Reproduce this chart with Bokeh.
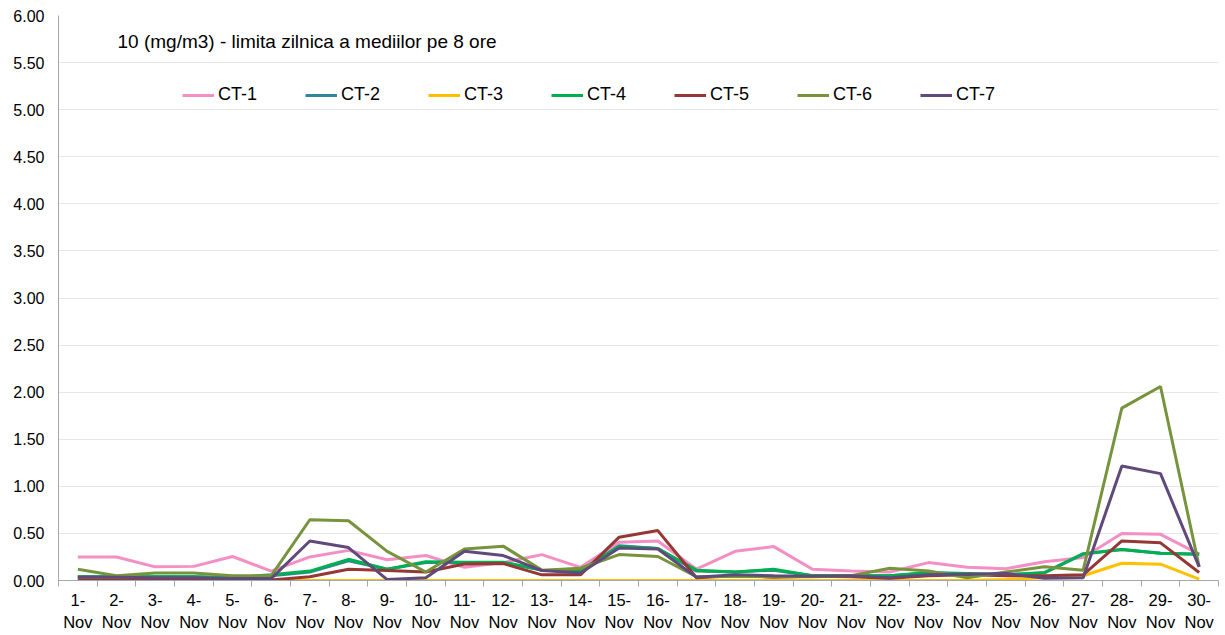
from bokeh.plotting import figure
from bokeh.models import (FixedTicker, NumeralTickFormatter, Legend, LegendItem,
                          Label, Range1d, ColumnDataSource)
from bokeh.embed import file_html
from bokeh.resources import INLINE

days = [f"{d}-\nNov" for d in range(1, 31)]

ct1 = [0.25, 0.25, 0.145, 0.15, 0.255, 0.10, 0.25, 0.32, 0.22, 0.265,
       0.14, 0.19, 0.275, 0.14, 0.405, 0.42, 0.12, 0.31, 0.36, 0.12,
       0.10, 0.09, 0.19, 0.14, 0.125, 0.20, 0.245, 0.50, 0.49, 0.28]
ct2 = [0.04, 0.04, 0.04, 0.04, 0.03, 0.05, 0.09, 0.21, 0.12, 0.19,
       0.19, 0.19, 0.11, 0.10, 0.37, 0.34, 0.10, 0.09, 0.11, 0.05,
       0.05, 0.05, 0.08, 0.07, 0.06, 0.08, 0.28, 0.33, 0.29, 0.28]
ct3 = [0.0, 0.0, 0.0, 0.0, 0.0, 0.0, 0.0, 0.0, 0.0, 0.0,
       0.0, 0.0, 0.0, 0.0, 0.0, 0.0, 0.0, 0.0, 0.0, 0.0,
       0.0, 0.0, 0.0, 0.0, 0.01, 0.03, 0.05, 0.183, 0.173, 0.014]
ct4 = [0.04, 0.04, 0.04, 0.04, 0.03, 0.06, 0.10, 0.225, 0.12, 0.20,
       0.195, 0.195, 0.11, 0.105, 0.36, 0.34, 0.11, 0.09, 0.12, 0.05,
       0.05, 0.05, 0.085, 0.075, 0.06, 0.085, 0.285, 0.33, 0.29, 0.28]
ct5 = [0.005, 0.005, 0.005, 0.005, 0.005, 0.005, 0.04, 0.12, 0.105, 0.09,
       0.175, 0.18, 0.06, 0.06, 0.46, 0.53, 0.03, 0.05, 0.035, 0.045,
       0.04, 0.025, 0.05, 0.06, 0.05, 0.05, 0.06, 0.42, 0.40, 0.085]
ct6 = [0.12, 0.05, 0.08, 0.08, 0.05, 0.05, 0.645, 0.635, 0.31, 0.09,
       0.335, 0.365, 0.11, 0.13, 0.275, 0.255, 0.04, 0.045, 0.04, 0.04,
       0.05, 0.13, 0.10, 0.03, 0.09, 0.145, 0.11, 1.83, 2.06, 0.145]
ct7 = [0.035, 0.035, 0.03, 0.03, 0.02, 0.02, 0.42, 0.35, 0.01, 0.03,
       0.31, 0.265, 0.105, 0.08, 0.345, 0.335, 0.035, 0.06, 0.05, 0.045,
       0.05, 0.03, 0.06, 0.067, 0.074, 0.025, 0.03, 1.215, 1.135, 0.145]

series_names = ["CT-1", "CT-2", "CT-3", "CT-4", "CT-5", "CT-6", "CT-7"]
series_values = [ct1, ct2, ct3, ct4, ct5, ct6, ct7]
colors = ["#F48FC4", "#31859C", "#FFC000", "#00B050", "#953735", "#77933C", "#604A7B"]

y_ticks = [0.0, 0.5, 1.0, 1.5, 2.0, 2.5, 3.0, 3.5, 4.0, 4.5, 5.0, 5.5, 6.0]
note = "10 (mg/m3) - limita zilnica  a mediilor pe 8 ore"

xs = list(range(1, len(days) + 1))

p = figure(width=1222, height=634, output_backend="svg", toolbar_location=None,
           x_range=Range1d(0.5, len(days) + 0.5), y_range=Range1d(0, 6),
           min_border_left=58, min_border_top=15, min_border_right=4,
           min_border_bottom=47)
p.outline_line_color = None
p.background_fill_color = "white"

FONT = "Liberation Sans"

items = []
for name, vals, col in zip(series_names, series_values, colors):
    src = ColumnDataSource(dict(x=xs, y=vals))
    r = p.line("x", "y", source=src, line_color=col, line_width=3)
    items.append(LegendItem(label=name, renderers=[r]))

# x axis
p.xaxis.ticker = FixedTicker(ticks=xs, minor_ticks=[i + 0.5 for i in range(0, len(days) + 1)])
p.xaxis.major_label_overrides = {i: d for i, d in zip(xs, days)}
p.xaxis.major_tick_out = 0
p.xaxis.major_tick_in = 0
p.xaxis.minor_tick_out = 6
p.xaxis.minor_tick_in = 0
p.xaxis.minor_tick_line_color = "#A6A6A6"
p.xaxis.axis_line_color = "#A6A6A6"
p.xaxis.major_label_text_font = FONT
p.xaxis.major_label_text_font_size = "16.5px"
p.xaxis.major_label_text_line_height = 1.25
p.xaxis.major_label_text_color = "#000000"
p.xaxis.major_label_standoff = 4
p.xgrid.grid_line_color = None

# y axis
p.yaxis.ticker = FixedTicker(ticks=y_ticks)
p.yaxis.formatter = NumeralTickFormatter(format="0.00")
p.yaxis.major_tick_out = 0
p.yaxis.major_tick_in = 0
p.yaxis.minor_tick_out = 0
p.yaxis.minor_tick_in = 0
p.yaxis.axis_line_color = "#A6A6A6"
p.yaxis.major_label_text_font = FONT
p.yaxis.major_label_text_font_size = "16px"
p.yaxis.major_label_text_color = "#000000"
p.yaxis.major_label_standoff = 14
p.ygrid.grid_line_color = "#E6E6E6"
p.ygrid.grid_line_width = 1

lab = Label(x=59, y=539, x_units="screen", y_units="screen", text=note,
            text_font=FONT, text_font_size="19px", text_color="#000000",
            text_baseline="middle")
p.add_layout(lab)

legend = Legend(items=items, orientation="horizontal", location=(124, 475),
                glyph_width=32, glyph_height=12, label_standoff=4, spacing=48,
                label_text_font=FONT, label_text_font_size="18px",
                label_text_color="#000000", border_line_color=None,
                background_fill_alpha=0, padding=0, margin=0)
p.add_layout(legend, "center")

open("out.html", "w").write(file_html(p, INLINE))
